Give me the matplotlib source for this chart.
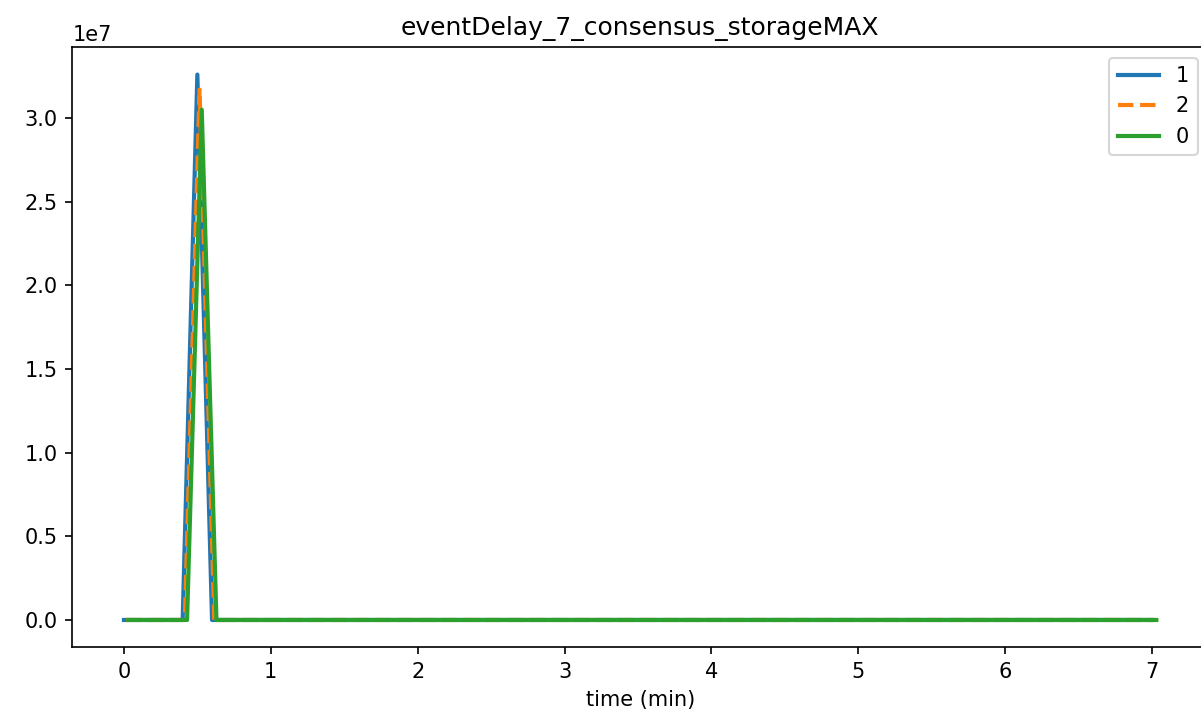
import matplotlib
matplotlib.use("Agg")
import matplotlib.pyplot as plt

# breakpoints of each run (time in min, storage max)
t_1 = [0.0, 0.4, 0.5, 0.6, 7.0]
v_1 = [0.0, 0.0, 3.26e7, 0.0, 0.0]

t_2 = [0.015, 0.415, 0.515, 0.615, 7.015]
v_2 = [0.0, 0.0, 3.17e7, 0.0, 0.0]

t_0 = [0.03, 0.43, 0.53, 0.63, 7.03]
v_0 = [0.0, 0.0, 3.05e7, 0.0, 0.0]

fig = plt.figure(figsize=(1201 / 150, 721 / 150), dpi=150)
# right edge of the axes sits just outside the picture, as in the original
ax = fig.add_axes([0.0602, 0.1023, 0.9456, 0.8321])

ax.plot(t_1, v_1, label="1", color="#1f77b4", lw=2)
ax.plot(t_2, v_2, "--", label="2", color="#ff7f0e", lw=2)
ax.plot(t_0, v_0, label="0", color="#2ca02c", lw=2)

ax.set_title("eventDelay_7_consensus_storageMAX")
ax.set_xlabel("time (min)")
ax.legend(loc="upper right")

fig.savefig("out.png", dpi=150)
